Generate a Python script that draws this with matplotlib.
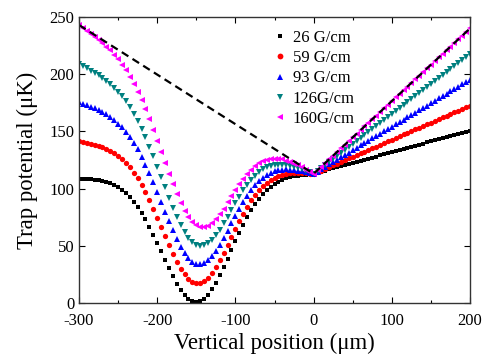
import matplotlib
matplotlib.use("Agg")
import matplotlib.pyplot as plt
from matplotlib.ticker import MultipleLocator

plt.rcParams['font.family'] = ['Liberation Serif', 'DejaVu Serif']
plt.rcParams['axes.unicode_minus'] = False

# Vertical position grid (µm), 5 µm steps from -300 to 200
position = list(range(-300, 205, 5))

labels = ["26 G/cm", "59 G/cm", "93 G/cm", "126G/cm", "160G/cm"]

g26 = [108.5, 108.4, 108.2, 108.0, 107.7, 107.2, 106.6, 105.7, 104.5, 103.1,
       101.2, 98.9, 96.1, 92.7, 88.7, 84.1, 78.9, 73.1, 66.7, 59.8,
       52.5, 45.1, 37.6, 30.2, 23.3, 17.0, 11.4, 6.9, 3.6, 1.5,
       0.9, 1.7, 3.9, 7.3, 12.0, 17.7, 24.1, 31.2, 38.7, 46.3,
       53.9, 61.3, 68.3, 74.9, 80.9, 86.2, 91.0, 95.1, 98.6, 101.5,
       104.0, 106.0, 107.6, 108.9, 109.9, 110.7, 111.3, 111.8, 112.2, 112.5,
       112.7, 113.7, 114.7, 115.7, 116.8, 117.7, 118.6, 119.6, 120.5, 121.5,
       122.4, 123.3, 124.3, 125.2, 126.2, 127.1, 128.0, 129.0, 129.9, 130.9,
       131.8, 132.7, 133.7, 134.6, 135.6, 136.5, 137.4, 138.4, 139.3, 140.3,
       141.2, 142.1, 143.1, 144.0, 145.0, 145.9, 146.8, 147.8, 148.7, 149.7,
       150.6]

g59 = [141.5, 140.8, 140.1, 139.4, 138.5, 137.5, 136.3, 134.8, 133.1, 131.1,
       128.7, 125.8, 122.5, 118.5, 114.0, 108.9, 103.1, 96.7, 89.8, 82.3,
       74.5, 66.5, 58.5, 50.6, 43.1, 36.2, 30.1, 25.1, 21.2, 18.6,
       17.4, 17.6, 19.3, 22.2, 26.3, 31.4, 37.3, 43.9, 50.8, 57.9,
       64.9, 71.8, 78.2, 84.2, 89.7, 94.5, 98.7, 102.2, 105.2, 107.6,
       109.5, 110.9, 112.0, 112.7, 113.2, 113.5, 113.5, 113.5, 113.3, 113.0,
       112.7, 114.3, 115.8, 117.4, 119.0, 120.5, 121.9, 123.4, 124.9, 126.4,
       127.9, 129.4, 130.9, 132.4, 133.9, 135.4, 136.8, 138.3, 139.8, 141.3,
       142.8, 144.3, 145.8, 147.3, 148.8, 150.3, 151.7, 153.2, 154.7, 156.2,
       157.7, 159.2, 160.7, 162.2, 163.7, 165.2, 166.6, 168.1, 169.6, 171.1,
       172.6]

g93 = [175.4, 174.2, 172.9, 171.6, 170.1, 168.5, 166.8, 164.8, 162.5, 159.9,
       156.9, 153.5, 149.6, 145.1, 140.0, 134.3, 128.0, 121.0, 113.5, 105.5,
       97.1, 88.6, 79.9, 71.5, 63.4, 56.0, 49.3, 43.7, 39.3, 36.1,
       34.4, 34.0, 35.1, 37.4, 41.0, 45.5, 50.9, 56.9, 63.2, 69.8,
       76.2, 82.5, 88.4, 93.8, 98.7, 103.0, 106.6, 109.6, 112.0, 113.8,
       115.1, 116.0, 116.5, 116.7, 116.6, 116.3, 115.8, 115.2, 114.4, 113.6,
       112.7, 114.8, 117.0, 119.1, 121.2, 123.3, 125.3, 127.4, 129.4, 131.5,
       133.6, 135.6, 137.7, 139.7, 141.8, 143.8, 145.9, 147.9, 150.0, 152.1,
       154.1, 156.2, 158.2, 160.3, 162.3, 164.4, 166.4, 168.5, 170.5, 172.6,
       174.7, 176.7, 178.8, 180.8, 182.9, 184.9, 187.0, 189.0, 191.1, 193.2,
       195.2]

g126 = [208.7, 206.9, 205.1, 203.2, 201.2, 199.1, 196.7, 194.2, 191.4, 188.2,
        184.7, 180.7, 176.2, 171.2, 165.5, 159.3, 152.4, 144.9, 136.8, 128.2,
        119.3, 110.2, 101.0, 92.0, 83.4, 75.4, 68.2, 62.0, 57.0, 53.3,
        51.0, 50.1, 50.6, 52.4, 55.4, 59.4, 64.2, 69.6, 75.4, 81.4,
        87.3, 93.0, 98.4, 103.3, 107.6, 111.3, 114.3, 116.8, 118.6, 119.9,
        120.7, 121.0, 121.0, 120.6, 119.9, 119.1, 118.0, 116.8, 115.5, 114.1,
        112.7, 115.4, 118.1, 120.7, 123.4, 126.1, 128.7, 131.3, 133.9, 136.5,
        139.1, 141.7, 144.3, 146.9, 149.5, 152.2, 154.8, 157.4, 160.0, 162.6,
        165.2, 167.8, 170.4, 173.0, 175.6, 178.3, 180.9, 183.5, 186.1, 188.7,
        191.3, 193.9, 196.5, 199.1, 201.7, 204.4, 207.0, 209.6, 212.2, 214.8,
        217.4]

g160 = [242.6, 240.3, 237.9, 235.4, 232.8, 230.1, 227.2, 224.1, 220.8, 217.0,
        212.9, 208.4, 203.3, 197.7, 191.5, 184.7, 177.2, 169.2, 160.5, 151.4,
        141.9, 132.2, 122.5, 112.9, 103.8, 95.2, 87.4, 80.7, 75.1, 70.8,
        68.0, 66.5, 66.4, 67.7, 70.1, 73.5, 77.8, 82.6, 87.9, 93.3,
        98.6, 103.8, 108.6, 112.9, 116.6, 119.8, 122.3, 124.1, 125.4, 126.1,
        126.3, 126.1, 125.5, 124.5, 123.3, 121.9, 120.3, 118.5, 116.6, 114.7,
        112.7, 116.0, 119.2, 122.4, 125.7, 128.9, 132.1, 135.2, 138.4, 141.6,
        144.8, 147.9, 151.1, 154.3, 157.5, 160.6, 163.8, 167.0, 170.2, 173.3,
        176.5, 179.7, 182.9, 186.0, 189.2, 192.4, 195.6, 198.7, 201.9, 205.1,
        208.3, 211.4, 214.6, 217.8, 221.0, 224.1, 227.3, 230.5, 233.7, 236.8,
        240.0]

# Dashed reference (quadrupole + gravity only, 160 G/cm)
dash_x = [-300, 0, 200]
dash_y = [243.0, 113.0, 240.0]

series = [g26, g59, g93, g126, g160]
colors = ["#000000", "#ff0000", "#0000ff", "#008080", "#ff00ff"]
markers = ["s", "o", "^", "v", "<"]
msizes = [3.2, 3.8, 4.2, 4.2, 4.2]

fig = plt.figure(figsize=(4.87, 3.56), dpi=100)
ax = fig.add_axes([79/487, 1 - 303/356, 391/487, 286/356])

for vals, c, m, ms, lab in zip(series, colors, markers, msizes, labels):
    ax.plot(position, vals, linestyle="none", marker=m, color=c,
            markersize=ms, markeredgewidth=0, label=lab)

ax.plot(dash_x, dash_y, color="black", linewidth=1.6, linestyle=(0, (3.5, 2.2)))

ax.set_xlim(-300, 200)
ax.set_ylim(0, 250)
ax.xaxis.set_major_locator(MultipleLocator(100))
ax.xaxis.set_minor_locator(MultipleLocator(50))
ax.yaxis.set_major_locator(MultipleLocator(50))
ax.tick_params(which="both", direction="in", top=True, right=True,
               labelsize=12, width=0.8)
ax.tick_params(axis="x", pad=7)
ax.tick_params(axis="y", pad=3.5)
ax.tick_params(which="major", length=4)
ax.tick_params(which="minor", length=2.5)
for sp in ax.spines.values():
    sp.set_linewidth(1.0)
    sp.set_color("#333333")

ax.set_xlabel("Vertical position (\u03bcm)", fontsize=16.4, labelpad=3)
ax.set_ylabel("Trap potential (\u03bcK)", fontsize=16.4, labelpad=8)

leg = ax.legend(loc="upper left", bbox_to_anchor=(0.468, 0.995), frameon=False,
                fontsize=12, handlelength=0.8, handletextpad=0.35,
                labelspacing=0.25, borderpad=0.2, markerscale=1.1)

fig.savefig("out.png", dpi=100)
